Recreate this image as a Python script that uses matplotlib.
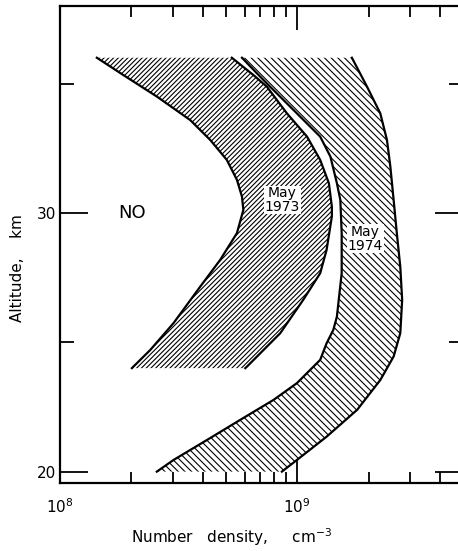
import matplotlib
matplotlib.use('Agg')
import matplotlib.pyplot as plt
from matplotlib.ticker import LogLocator, NullFormatter, FixedLocator

# Dados (densidade em cm^-3, altitude em km)
alt_1973_esq = [36.0, 35.33, 34.50, 33.59, 32.82, 32.05, 31.28, 30.63, 30.12, 29.22,
                28.18, 27.15, 25.74, 24.70, 24.06, 24.0]
dens_1973_esq = [1.43e8, 1.85e8, 2.56e8, 3.54e8, 4.30e8, 5.05e8, 5.57e8, 5.85e8, 5.93e8, 5.57e8,
                 4.73e8, 3.90e8, 3.01e8, 2.40e8, 2.04e8, 2.01e8]
alt_1973_dir = [36.0, 35.33, 34.88, 33.85, 32.95, 32.05, 31.15, 30.24, 29.86, 28.57,
                27.67, 26.64, 25.35, 24.06, 24.0]
dens_1973_dir = [5.3e8, 6.54e8, 7.45e8, 9.05e8, 1.10e9, 1.25e9, 1.36e9, 1.40e9, 1.40e9, 1.33e9,
                 1.25e9, 1.06e9, 8.48e8, 6.14e8, 6.04e8]

alt_1974_esq = [36.0, 35.40, 34.88, 33.72, 32.95, 32.18, 31.15, 30.50, 29.22, 27.67,
                25.99, 25.48, 24.96, 24.32, 23.42, 22.77, 22.00, 21.22, 20.45, 20.0]
dens_1974_esq = [5.85e8, 6.76e8, 7.69e8, 1.03e9, 1.25e9, 1.38e9, 1.47e9, 1.52e9, 1.54e9, 1.54e9,
                 1.47e9, 1.42e9, 1.33e9, 1.25e9, 9.97e8, 7.94e8, 5.75e8, 4.16e8, 3.01e8, 2.56e8]
alt_1974_dir = [36.0, 34.88, 33.85, 32.82, 31.79, 30.50, 29.22, 27.92, 26.64, 25.35,
                24.45, 23.54, 22.39, 21.35, 20.45, 20.0]
dens_1974_dir = [1.70e9, 1.97e9, 2.24e9, 2.39e9, 2.47e9, 2.55e9, 2.63e9, 2.72e9, 2.77e9, 2.72e9,
                 2.55e9, 2.24e9, 1.79e9, 1.33e9, 9.97e8, 8.62e8]

plt.rcParams['hatch.linewidth'] = 0.8

fig = plt.figure(figsize=(4.58, 5.51), dpi=100)
# eixo passa um pouco da borda direita, como no original recortado
ax = fig.add_axes([60/458, 1 - 483/551, (463-60)/458, (483-6)/551])

# faixas hachuradas
ax.fill(dens_1973_esq + dens_1973_dir[::-1], alt_1973_esq + alt_1973_dir[::-1],
        facecolor='none', edgecolor='black', linewidth=0, hatch='///////')
ax.fill(dens_1974_esq + dens_1974_dir[::-1], alt_1974_esq + alt_1974_dir[::-1],
        facecolor='none', edgecolor='black', linewidth=0, hatch='\\\\\\\\\\')

for x, y in [(dens_1973_esq, alt_1973_esq), (dens_1973_dir, alt_1973_dir),
             (dens_1974_esq, alt_1974_esq), (dens_1974_dir, alt_1974_dir)]:
    ax.plot(x, y, color='black', linewidth=1.6)

ax.set_xscale('log')
ax.set_xlim(1e8, 5e9)
ax.set_ylim(19.56, 38.0)

# ticks
ax.xaxis.set_major_locator(FixedLocator([1e8, 1e9]))
ax.xaxis.set_minor_locator(LogLocator(base=10, subs=range(2, 10)))
ax.xaxis.set_minor_formatter(NullFormatter())
ax.set_xticklabels(['$10^8$', '$10^9$'], fontsize=11)
ax.yaxis.set_major_locator(FixedLocator([20, 30]))
ax.yaxis.set_minor_locator(FixedLocator([25, 35]))
ax.set_yticklabels(['20', '30'], fontsize=11)
ax.tick_params(which='both', direction='in', top=True, right=True, width=1.3)
ax.tick_params(which='major', length=17, pad=10)
ax.tick_params(which='minor', length=8)
ax.tick_params(axis='y', which='major', length=20, pad=3)
ax.tick_params(axis='y', which='minor', length=10)
for s in ax.spines.values():
    s.set_linewidth(1.6)

# textos
ax.text(2.02e8, 30.0, 'NO', fontsize=13, ha='center', va='center')
ax.text(8.65e8, 30.5, 'May\n1973', fontsize=10, ha='center', va='center',
        linespacing=0.95, bbox=dict(facecolor='white', edgecolor='none', pad=0.5))
ax.text(1.94e9, 29.0, 'May\n1974', fontsize=10, ha='center', va='center',
        linespacing=0.95, bbox=dict(facecolor='white', edgecolor='none', pad=0.5))

fig.text(232/458, 1 - 537/551, 'Number   density,     cm$^{-3}$', fontsize=11,
         ha='center', va='center')
fig.text(18/458, 1 - 268/551, 'Altitude,    km', fontsize=11, rotation=90,
         ha='center', va='center')

plt.savefig('out.png', dpi=100)
